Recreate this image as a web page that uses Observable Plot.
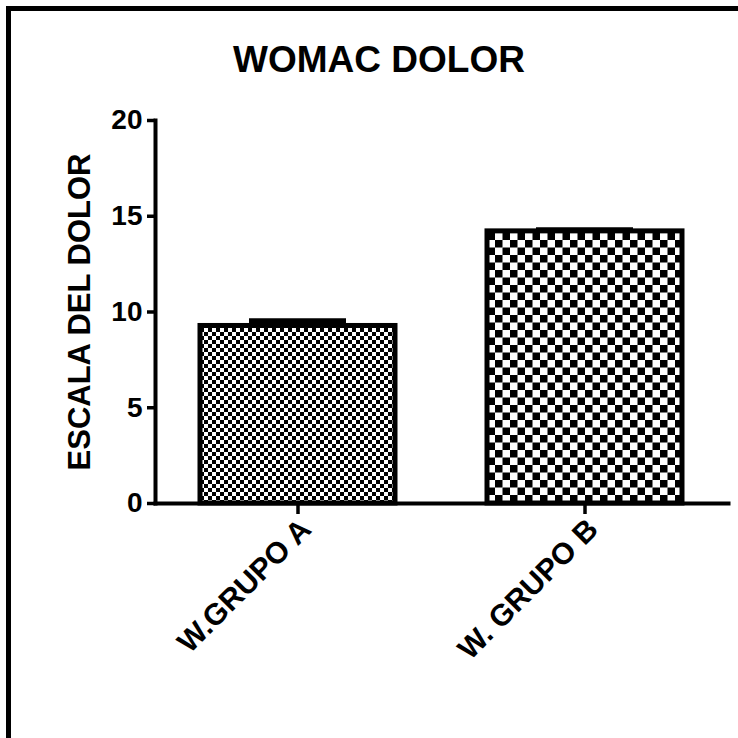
<!DOCTYPE html>
<html><head><meta charset="utf-8">
<script src="https://cdn.jsdelivr.net/npm/d3@7"></script>
<script src="https://cdn.jsdelivr.net/npm/@observablehq/plot@0.6"></script>
<style>
html,body{margin:0;padding:0;background:#fff;overflow:hidden;}
#wrap{position:relative;width:738px;height:738px;overflow:hidden;background:#fff;}
#btop{position:absolute;left:6px;top:6px;width:732px;height:5px;background:#000;}
#bleft{position:absolute;left:6px;top:6px;width:5px;height:732px;background:#000;}
#wrap svg.chart{position:absolute;left:0;top:0;}
</style></head><body>
<div id="wrap">
<svg width="1" height="1" style="position:absolute;left:0;top:0">
<defs>
<pattern id="patA" patternUnits="userSpaceOnUse" width="8" height="8">
<rect width="8" height="8" fill="#fff"/><rect width="4" height="4" fill="#000"/><rect x="4" y="4" width="4" height="4" fill="#000"/>
</pattern>
<pattern id="patB" patternUnits="userSpaceOnUse" width="15" height="15">
<rect width="15" height="15" fill="#fff"/><rect width="7.5" height="7.5" fill="#000"/><rect x="7.5" y="7.5" width="7.5" height="7.5" fill="#000"/>
</pattern>
</defs></svg>
<div id="btop"></div><div id="bleft"></div>
</div>
<script>
const title = "WOMAC DOLOR";
const yLabel = "ESCALA DEL DOLOR";
const groups = ["W.GRUPO A", "W. GRUPO B"];
const means = [9.27, 14.21];
const errors = [0.27, 0.09];
const fills = ["url(#patA)", "url(#patB)"];
const yTicks = [0, 5, 10, 15, 20];

const data = groups.map((g, i) => ({g, mean: means[i], err: errors[i]}));
const font = "'Liberation Sans', Arial, sans-serif";

const chart = Plot.plot({
  width: 738,
  height: 738,
  marginLeft: 155,
  marginRight: 10,
  marginTop: 120,
  marginBottom: 235,
  style: {fontFamily: font, fontWeight: "bold", fontSize: "27px", color: "#000", background: "transparent"},
  x: {domain: groups, paddingInner: 0.32, paddingOuter: 0.158, axis: null},
  y: {domain: [0, 20], axis: null},
  marks: [
    ...groups.map((g, i) => Plot.barY(data.filter(d => d.g === g), {x: "g", y: "mean", fill: fills[i], stroke: "#000", strokeWidth: 5})),
    Plot.ruleX(data, {x: "g", y1: "mean", y2: d => d.mean + d.err, stroke: "#000", strokeWidth: 5}),
    Plot.tickY(data, {x: "g", y: d => d.mean + d.err, stroke: "#000", strokeWidth: 5, insetLeft: 49, insetRight: 49}),
    Plot.frame({anchor: "left", stroke: "#000", strokeWidth: 4}),
    Plot.frame({anchor: "bottom", stroke: "#000", strokeWidth: 4}),
    Plot.axisY({ticks: yTicks, tickSize: 8, tickPadding: 5, strokeWidth: 3.5, fontSize: 28, fontWeight: "bold", label: null}),
    Plot.axisX({tickSize: 11, strokeWidth: 3.5, tickFormat: () => "", label: null}),
    Plot.text(groups, {x: d => d, frameAnchor: "bottom", text: d => d, rotate: -45, textAnchor: "end", lineAnchor: "middle", dx: 8, dy: 21, fontSize: 30, fontWeight: "bold"}),
    Plot.text([title], {frameAnchor: "top", text: d => d, textAnchor: "middle", lineAnchor: "middle", dx: -63, dy: -60, fontSize: 37, fontWeight: "bold"}),
    Plot.text([yLabel], {frameAnchor: "left", text: d => d, rotate: -90, textAnchor: "middle", lineAnchor: "middle", dx: -75, fontSize: 31, fontWeight: "bold"})
  ]
});
chart.classList.add("chart");
const wrap = document.getElementById("wrap");
wrap.appendChild(chart);
wrap.appendChild(document.getElementById("btop"));
wrap.appendChild(document.getElementById("bleft"));
</script>
</body></html>
